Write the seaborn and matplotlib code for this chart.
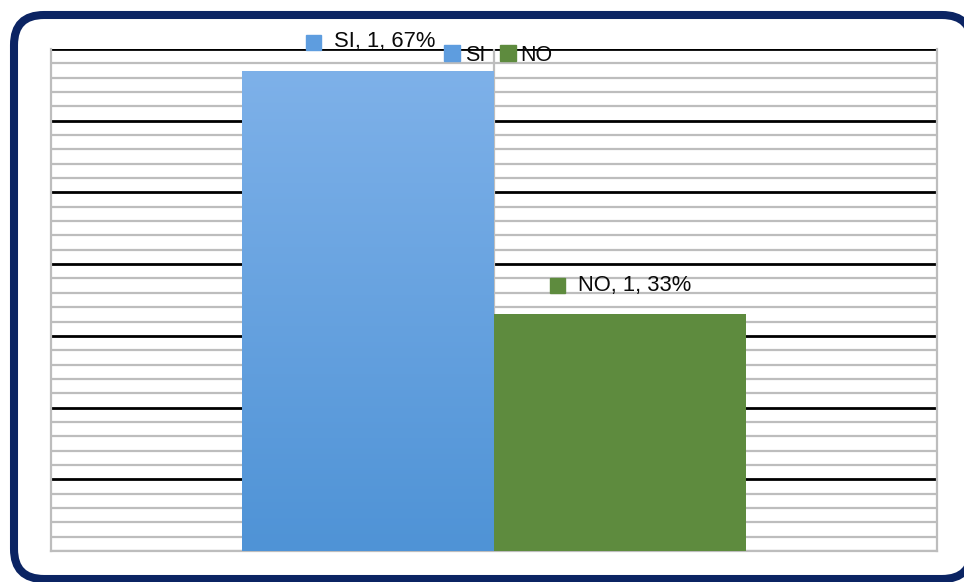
import numpy as np
import pandas as pd
import matplotlib
matplotlib.use("Agg")
import matplotlib.pyplot as plt
import seaborn as sns
from matplotlib.patches import FancyBboxPatch, Rectangle
from matplotlib.ticker import MultipleLocator, FixedLocator
import matplotlib.transforms as mtransforms

# data
categories = ["SI", "NO"]
shares = [0.67, 0.33]
counts = [1, 1]
labels = ["SI, 1, 67%", "NO, 1, 33%"]
colors = {"SI": "#5E9DDF", "NO": "#5E8B3E"}

df = pd.DataFrame({"resp": categories, "share": shares})

sns.set_theme(style="white")
plt.rcParams["font.family"] = ["Liberation Sans", "DejaVu Sans"]

fig = plt.figure(figsize=(9.64, 5.82), dpi=100)

# rounded navy frame, drawn in pixel coordinates
bg = fig.add_axes([0, 0, 1, 1], zorder=-1)
bg.set_xlim(0, 964)
bg.set_ylim(0, 582)
bg.axis("off")
bg.add_patch(FancyBboxPatch((14, 3), 958, 564,
                            boxstyle="round,pad=0,rounding_size=30",
                            facecolor="white", edgecolor="#0B2463",
                            linewidth=5.8))

ax = fig.add_axes([51 / 964, 31 / 582, 886 / 964, 502 / 582])
sns.barplot(data=df, x="resp", y="share", hue="resp", palette=colors,
            saturation=1, width=1.0, ax=ax, legend=False, zorder=3,
            linewidth=0)

ax.set_xlim(-1.26, 2.26)
ax.set_ylim(0, 0.7)
ax.yaxis.set_major_locator(FixedLocator(np.arange(1, 8) / 10))
ax.yaxis.set_minor_locator(MultipleLocator(0.02))
ax.grid(which="major", axis="y", color="black", lw=2.0, zorder=0)
ax.grid(which="minor", axis="y", color="#BDBDBD", lw=1.6, zorder=0)
ax.grid(which="major", axis="x", visible=False)
ax.tick_params(which="both", left=False, bottom=False,
               labelleft=False, labelbottom=False)
ax.set_xlabel("")
ax.set_ylabel("")
ax.set_axisbelow(True)
for side in ["left", "right", "bottom"]:
    ax.spines[side].set_color("#BDBDBD")
    ax.spines[side].set_linewidth(1.6)
ax.spines["top"].set_visible(False)
ax.axvline(0.5, color="#BDBDBD", lw=1.6, zorder=1)

# vertical gradient on the SI bar
bar_si = ax.patches[0]
x0, y0 = bar_si.get_x(), bar_si.get_y()
w, h = bar_si.get_width(), bar_si.get_height()
grad = np.linspace(0, 1, 256).reshape(-1, 1)
cmap = matplotlib.colors.LinearSegmentedColormap.from_list(
    "si", ["#4F93D6", "#7EB1E9"])
im = ax.imshow(grad, cmap=cmap, aspect="auto", origin="lower",
               extent=[x0, x0 + w, y0, y0 + h], zorder=3.5)
im.set_clip_path(bar_si)
ax.set_xlim(-1.26, 2.26)
ax.set_ylim(0, 0.7)

# data labels with colour squares
offsets = [(-55, 29, -34), (-63, 29, -42)]
for i, (cat, val, lab) in enumerate(zip(categories, shares, labels)):
    dx_sq, dy, dx_txt = offsets[i]
    sq_col = colors[cat]
    ax.plot([i], [val], marker="s", markersize=10.8, color=sq_col,
            transform=ax.transData + mtransforms.ScaledTranslation(
                dx_sq / 100, dy / 100, fig.dpi_scale_trans),
            clip_on=False, zorder=6)
    ax.annotate(lab, xy=(i, val), xytext=(dx_txt * 0.72, dy * 0.72),
                textcoords="offset points", ha="left", va="center",
                fontsize=15.8, color="#0A0A0A", zorder=6)

# legend
handles = [Rectangle((0, 0), 1, 1, color=colors["SI"]),
           Rectangle((0, 0), 1, 1, color=colors["NO"])]
ax.legend(handles, categories, loc="center", bbox_to_anchor=(0.505, 0.988),
          ncol=2, frameon=False, fontsize=15.5, handlelength=0.75,
          handleheight=0.75, handletextpad=0.2, columnspacing=0.7,
          borderpad=0, labelcolor="#0A0A0A")

fig.savefig("out.png", dpi=100)
